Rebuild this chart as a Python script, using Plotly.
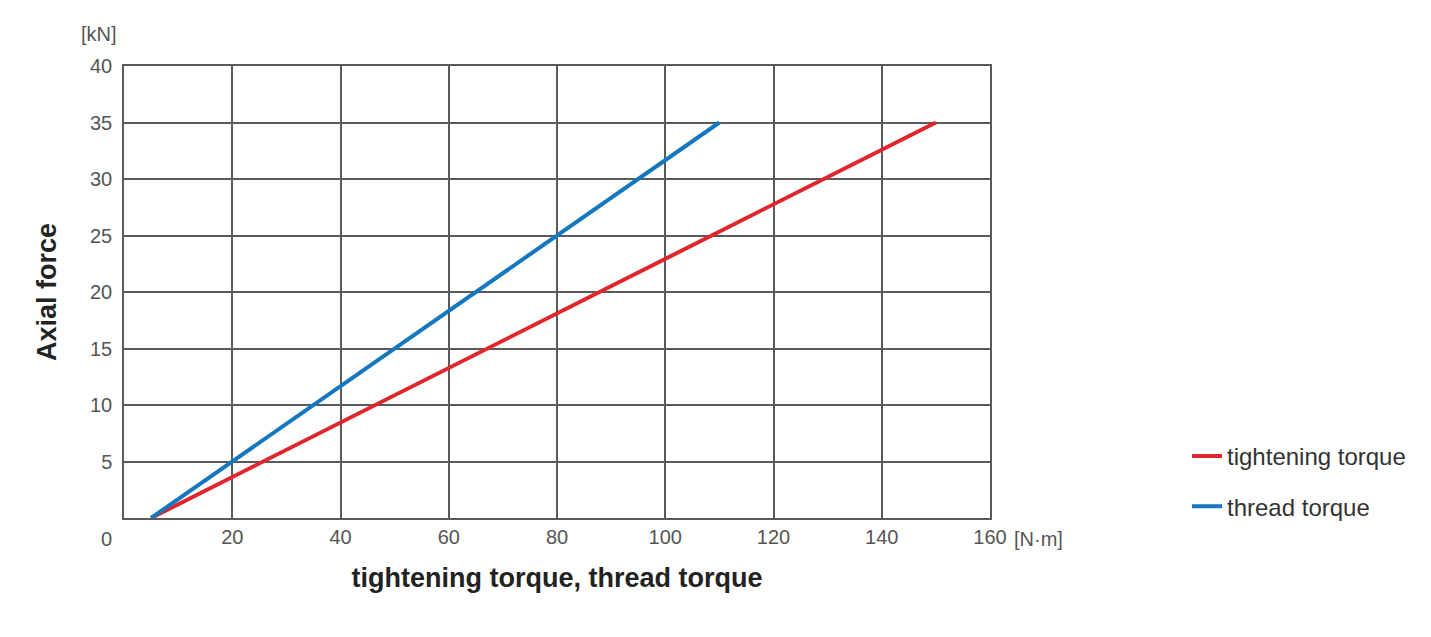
import plotly.graph_objects as go

# values
axial_force = [0, 35]                 # kN
tightening_torque = [5, 150]          # N·m
thread_torque = [5, 110]              # N·m

x_ticks = [20, 40, 60, 80, 100, 120, 140, 160]
y_ticks = [5, 10, 15, 20, 25, 30, 35, 40]

RED = "#e0262c"
BLUE = "#1578bf"
GRID = "#5a5a5a"
FONT = "Liberation Sans, Arial, sans-serif"
TICK_FONT = dict(family=FONT, size=20, color="#555555")
TITLE_FONT = dict(family=FONT, size=27, color="#222222")

fig = go.Figure()

fig.add_trace(go.Scatter(
    x=tightening_torque, y=axial_force, mode="lines",
    name="tightening torque", legendgroup="a",
    line=dict(color=RED, width=4),
))
fig.add_trace(go.Scatter(
    x=thread_torque, y=axial_force, mode="lines",
    name="thread torque", legendgroup="b",
    line=dict(color=BLUE, width=4),
))

fig.update_xaxes(
    range=[0, 160], tickvals=x_ticks, ticks="",
    showgrid=True, gridcolor=GRID, gridwidth=1.5,
    showline=True, linecolor=GRID, linewidth=1.5, mirror=True,
    zeroline=False, tickfont=TICK_FONT,
    title=dict(text="<b>tightening torque, thread torque</b>",
               font=TITLE_FONT, standoff=21),
)
fig.update_yaxes(
    range=[0, 40], tickvals=y_ticks, ticks="", ticklabelstandoff=6,
    showgrid=True, gridcolor=GRID, gridwidth=1.5,
    showline=True, linecolor=GRID, linewidth=1.5, mirror=True,
    zeroline=False, tickfont=TICK_FONT,
    title=dict(text="<b>Axial force</b>", font=TITLE_FONT, standoff=26),
)

# unit labels and the shared origin label
fig.add_annotation(text="0", xref="paper", yref="paper", x=0, y=0,
                   xanchor="right", yanchor="top", xshift=-10, yshift=-8,
                   showarrow=False, font=TICK_FONT)
fig.add_annotation(text="[N·m]", xref="paper", yref="paper", x=1, y=0,
                   xanchor="left", yanchor="top", xshift=22, yshift=-8,
                   showarrow=False, font=TICK_FONT)
fig.add_annotation(text="[kN]", xref="paper", yref="paper", x=0, y=1,
                   xanchor="right", yanchor="bottom", xshift=-5, yshift=19,
                   showarrow=False, font=TICK_FONT)

fig.update_layout(
    width=1431, height=637,
    margin=dict(l=116, r=449, t=58, b=127),
    paper_bgcolor="white", plot_bgcolor="white",
    font=dict(family=FONT, color="#333333"),
    showlegend=True,
    legend=dict(
        x=1.2275, y=0.186, xanchor="left", yanchor="top",
        font=dict(family=FONT, size=24, color="#333333"),
        tracegroupgap=16, bgcolor="rgba(0,0,0,0)",
    ),
)

fig.write_html("out.html")
